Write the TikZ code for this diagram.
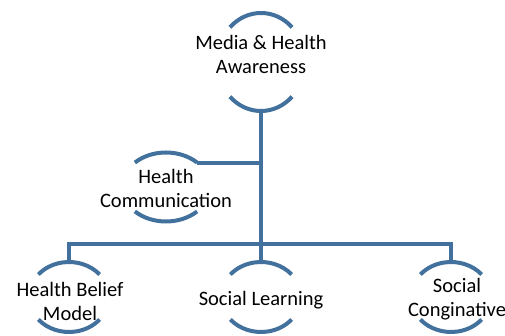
\documentclass[tikz,border=0pt]{standalone}
\usepackage{fontspec}
\setmainfont{Carlito}
\usepackage{xcolor}
\definecolor{ringblue}{RGB}{65,113,156}

\tikzset{
  ring/.style={line width=4pt, ringblue},
  link/.style={line width=4pt, ringblue},
  txt/.style={align=center, inner sep=0pt, font=\fontsize{20.5}{24}\selectfont},
}

\begin{document}
\begin{tikzpicture}[x=1pt,y=1pt]
            \useasboundingbox (0,0) rectangle (505,336);

            % Testi
            \node[txt] (media) at (261,282) {Media \& Health\\Awareness};
            \node[txt] (comm) at (166,148) {Health\\Communication};
            \node[txt] (belief) at (70,35) {Health Belief\\Model};
            \node[txt] (learn) at (261,36) {Social Learning};
            \node[txt] (cogn) at (457,37) {Social\\Conginative};

            % Anelli
            \draw[ring] (261,274) ++(45:44 and 49) arc[start angle=45, end angle=135, x radius=44, y radius=49];
            \draw[ring] (261,274) ++(225:44 and 49) arc[start angle=225, end angle=315, x radius=44, y radius=49];

            \draw[ring] (166,149) ++(45:44 and 34.5) arc[start angle=45, end angle=135, x radius=44, y radius=34.5];
            \draw[ring] (166,149) ++(225:44 and 34.5) arc[start angle=225, end angle=315, x radius=44, y radius=34.5];

            \draw[ring] (69,39) ++(40:40 and 35) arc[start angle=40, end angle=140, x radius=40, y radius=35];
            \draw[ring] (69,39) ++(220:40 and 35) arc[start angle=220, end angle=320, x radius=40, y radius=35];

            \draw[ring] (261,39) ++(40:40 and 35) arc[start angle=40, end angle=140, x radius=40, y radius=35];
            \draw[ring] (261,39) ++(220:40 and 35) arc[start angle=220, end angle=320, x radius=40, y radius=35];

            \draw[ring] (451,39) ++(40:40 and 35) arc[start angle=40, end angle=140, x radius=40, y radius=35];
            \draw[ring] (451,39) ++(220:40 and 35) arc[start angle=220, end angle=320, x radius=40, y radius=35];

            % Punti di attacco
            \coordinate (media-s) at (261,225);
            \coordinate (comm-e) at (197.1,173.4);
            \coordinate (belief-n) at (69,74);
            \coordinate (learn-n) at (261,74);
            \coordinate (cogn-n) at (451,74);

            % Collegamenti
            \draw[link] (media-s) -- (learn-n);
            \draw[link] (comm-e) -- (comm-e -| media-s);
            \draw[link] (belief-n) -- ++(0,18) -| (cogn-n);
        \end{tikzpicture}
\end{document}
